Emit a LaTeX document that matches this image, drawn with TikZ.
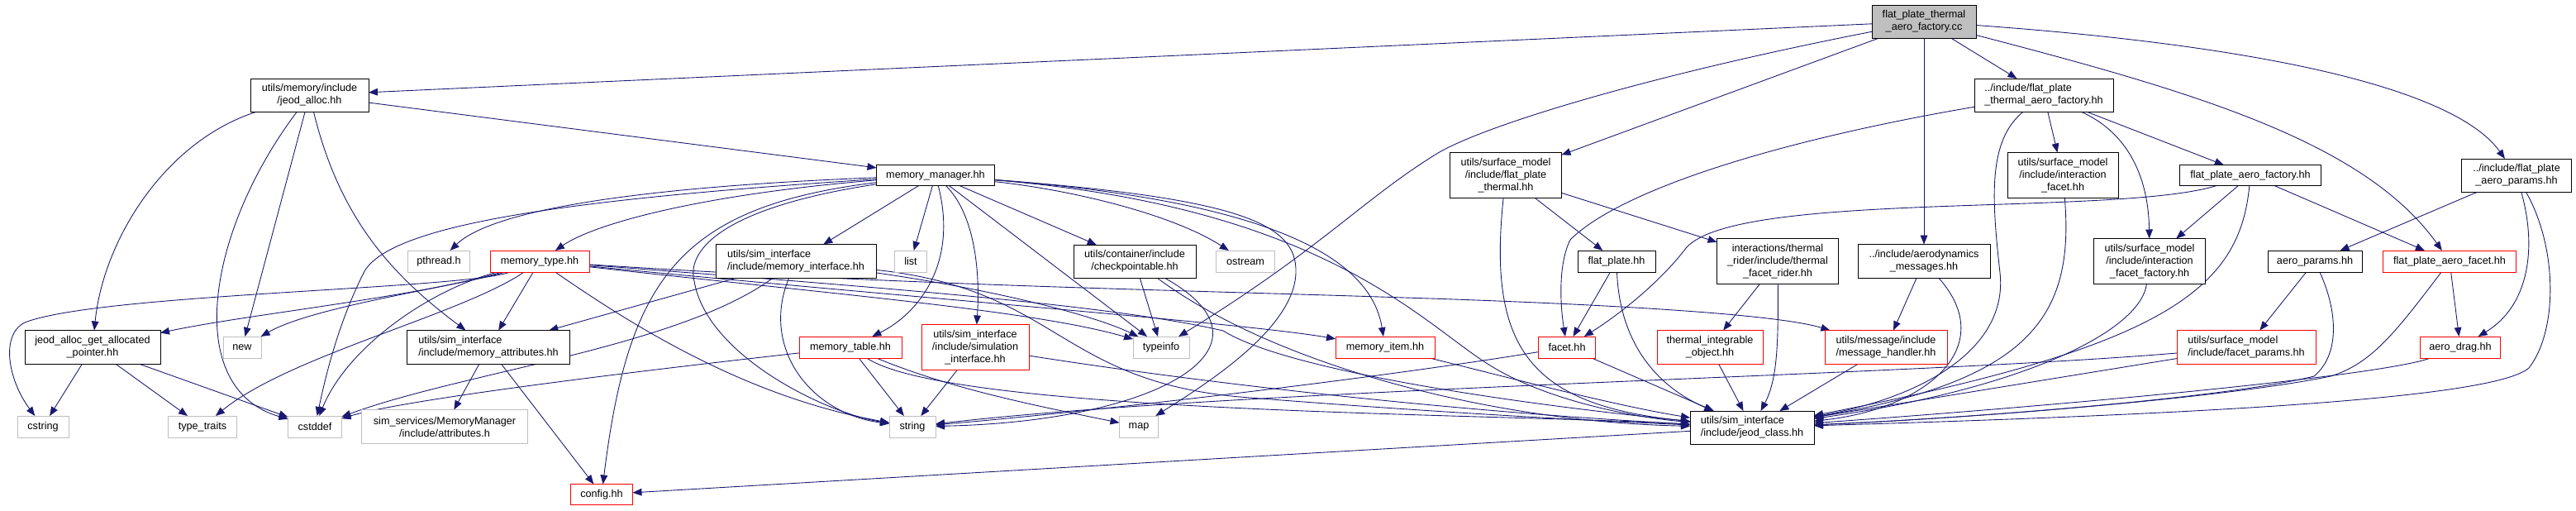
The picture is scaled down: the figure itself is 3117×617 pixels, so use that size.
\documentclass[tikz,border=0pt]{standalone}
\usepackage{fontspec}
\setmainfont{Liberation Sans}
\usepackage{tikz}
\usetikzlibrary{arrows.meta, backgrounds}
\definecolor{edgeblue}{RGB}{25,25,112}
\definecolor{sysgray}{RGB}{191,191,191}
\definecolor{truncred}{RGB}{255,0,0}
\definecolor{rootgray}{RGB}{191,191,191}
\newcommand\lbl{\fontsize{10.8pt}{12.8pt}\selectfont}
\newcommand\pxu{0.03cm}
\tikzset{
  hdr/.style={draw=black, line width=0.7pt, fill=white, inner sep=0pt, outer sep=0pt,
              font=\lbl, align=center},
  syshdr/.style={hdr, draw=sysgray},
  trunc/.style={hdr, draw=truncred},
  rootfile/.style={hdr, fill=rootgray},
  sz/.style 2 args={minimum width=#1*\pxu, minimum height=#2*\pxu},
  dep/.style={draw=edgeblue, line width=0.75pt, -{Triangle[length=0.33cm, width=0.26cm]}}
}

\begin{document}
\begin{tikzpicture}[x=0.03cm, y=-0.03cm]
  \useasboundingbox (0,0) rectangle (3117,617);
  % files
  \node[rootfile, sz={126}{40}] (fptacc) at (2328,26) {flat\_plate\_thermal\\\_aero\_factory.cc};
  \node[hdr, sz={143}{40}] (jeodalloc) at (374.5,115) {utils/memory/include\\/jeod\_alloc.hh};
  \node[hdr, sz={143}{25}] (mmgr) at (1132,212) {memory\_manager.hh};
  \node[syshdr, sz={75}{26}] (pthread) at (531,316) {pthread.h};
  \node[trunc, sz={120}{26}] (memtype) at (653,316) {memory\_type.hh};
  \node[hdr, sz={194}{41}, align=left] (memiface) at (963,316) {utils/sim\_interface\\/include/memory\_interface.hh};
  \node[syshdr, sz={39}{26}] (list) at (1102,316) {list};
  \node[hdr, sz={148}{40}] (chkpt) at (1373,316) {utils/container/include\\/checkpointable.hh};
  \node[syshdr, sz={71}{26}] (ostream) at (1507,316) {ostream};
  \node[hdr, sz={164}{41}] (getptr) at (112,420) {jeod\_alloc\_get\_allocated\\\_pointer.hh};
  \node[syshdr, sz={46}{26}] (newhdr) at (293,420) {new};
  \node[hdr, sz={197}{41}, align=left] (memattr) at (591,420) {utils/sim\_interface\\/include/memory\_attributes.hh};
  \node[trunc, sz={124}{26}] (memtable) at (1029,420) {memory\_table.hh};
  \node[trunc, sz={130}{55}] (siminterface) at (1180,420) {utils/sim\_interface\\/include/simulation\\\_interface.hh};
  \node[syshdr, sz={68}{26}] (typeinfo) at (1405,420) {typeinfo};
  \node[trunc, sz={120}{26}] (memitem) at (1676,420) {memory\_item.hh};
  \node[syshdr, sz={62}{26}] (cstring) at (52,516) {cstring};
  \node[syshdr, sz={83}{26}] (typetraits) at (245,516) {type\_traits};
  \node[syshdr, sz={65}{26}] (cstddef) at (381,516) {cstddef};
  \node[syshdr, sz={201}{41}] (attrh) at (538,516) {sim\_services/MemoryManager\\/include/attributes.h};
  \node[syshdr, sz={56}{26}] (string) at (1104,516) {string};
  \node[syshdr, sz={47}{26}] (map) at (1378,516) {map};
  \node[trunc, sz={75}{25}] (config) at (728,598) {config.hh};
  \node[hdr, sz={135}{55}] (fpthermal) at (1822,212) {utils/surface\_model\\/include/flat\_plate\\\_thermal.hh};
  \node[hdr, sz={94}{26}] (flatplate) at (1956,316) {flat\_plate.hh};
  \node[hdr, sz={147}{55}] (rider) at (2151,316) {interactions/thermal\\\_rider/include/thermal\\\_facet\_rider.hh};
  \node[hdr, sz={160}{41}] (aeromsg) at (2328,316) {../include/aerodynamics\\\_messages.hh};
  \node[trunc, sz={69}{26}] (facet) at (1896,420) {facet.hh};
  \node[trunc, sz={128}{41}] (thermobj) at (2069,420) {thermal\_integrable\\\_object.hh};
  \node[trunc, sz={148}{41}] (msghandler) at (2282,420) {utils/message/include\\/message\_handler.hh};
  \node[hdr, sz={150}{40}, align=left] (jeodclass) at (2120,517) {utils/sim\_interface\\/include/jeod\_class.hh};
  \node[hdr, sz={168}{40}, align=left] (fptaf) at (2473,115) {../include/flat\_plate\\\_thermal\_aero\_factory.hh};
  \node[hdr, sz={134}{55}] (ifacet) at (2496,212) {utils/surface\_model\\/include/interaction\\\_facet.hh};
  \node[hdr, sz={171}{25}] (fpaf) at (2723,212) {flat\_plate\_aero\_factory.hh};
  \node[hdr, sz={133}{40}] (fpap) at (3045,212) {../include/flat\_plate\\\_aero\_params.hh};
  \node[hdr, sz={135}{55}] (iff) at (2601,316) {utils/surface\_model\\/include/interaction\\\_facet\_factory.hh};
  \node[hdr, sz={114}{26}] (aeroparams) at (2801,316) {aero\_params.hh};
  \node[trunc, sz={161}{26}] (fpafacet) at (2964,316) {flat\_plate\_aero\_facet.hh};
  \node[trunc, sz={168}{41}, align=left] (facetparams) at (2718,420) {utils/surface\_model\\/include/facet\_params.hh};
  \node[trunc, sz={97}{26}] (aerodrag) at (2977,420) {aero\_drag.hh};

  % includes
  \begin{scope}[on background layer]
    \draw[dep] (fptacc) -- (jeodalloc);
    \draw[dep] (fptacc) .. controls (2000,90) and (1800,150) .. (1740,185) .. controls (1650,240) and (1600,300) .. (typeinfo);
    \draw[dep] (fptacc) -- (fpthermal);
    \draw[dep] (fptacc) -- (aeromsg);
    \draw[dep] (fptacc) -- (fptaf);
    \draw[dep] (fptacc) .. controls (2650,110) and (2860,170) .. (fpafacet);
    \draw[dep] (fptacc) .. controls (2800,60) and (2980,120) .. (fpap);

    \draw[dep] (jeodalloc) -- (mmgr);
    \draw[dep] (jeodalloc) .. controls (200,170) and (125,290) .. (getptr);
    \draw[dep] (jeodalloc) -- (newhdr);
    \draw[dep] (jeodalloc) .. controls (250,280) and (220,470) .. (cstddef);
    \draw[dep] (jeodalloc) .. controls (410,260) and (470,330) .. (memattr);

    \draw[dep] (mmgr) .. controls (800,225) and (600,250) .. (pthread);
    \draw[dep] (mmgr) .. controls (850,235) and (720,270) .. (memtype);
    \draw[dep] (mmgr) .. controls (700,240) and (470,270) .. (440,330) .. controls (410,390) and (395,450) .. (cstddef);
    \draw[dep] (mmgr) .. controls (820,250) and (760,340) .. (config);
    \draw[dep] (mmgr) .. controls (880,250) and (830,300) .. (840,340) .. controls (855,430) and (1000,500) .. (string);
    \draw[dep] (mmgr) -- (memiface);
    \draw[dep] (mmgr) -- (list);
    \draw[dep] (mmgr) .. controls (1160,320) and (1110,380) .. (memtable);
    \draw[dep] (mmgr) .. controls (1180,260) and (1186,330) .. (siminterface);
    \draw[dep] (mmgr) -- (typeinfo);
    \draw[dep] (mmgr) -- (chkpt);
    \draw[dep] (mmgr) .. controls (1300,230) and (1420,260) .. (ostream);
    \draw[dep] (mmgr) .. controls (1500,240) and (1570,270) .. (1568,330) .. controls (1566,400) and (1450,470) .. (map);
    \draw[dep] (mmgr) .. controls (1560,245) and (1660,320) .. (memitem);
    \draw[dep] (mmgr) .. controls (1600,250) and (1720,390) .. (1800,440) .. controls (1870,485) and (1980,505) .. (jeodclass);

    \draw[dep] (memtype) .. controls (500,360) and (300,380) .. (getptr);
    \draw[dep] (memtype) .. controls (560,345) and (380,370) .. (newhdr);
    \draw[dep] (memtype) .. controls (560,350) and (120,355) .. (30,390) .. controls (0,405) and (10,460) .. (cstring);
    \draw[dep] (memtype) .. controls (560,380) and (350,430) .. (typetraits);
    \draw[dep] (memtype) .. controls (520,350) and (420,420) .. (cstddef);
    \draw[dep] (memtype) -- (memattr);
    \draw[dep] (memtype) .. controls (760,390) and (900,480) .. (string);
    \draw[dep] (memtype) .. controls (1000,355) and (1250,375) .. (typeinfo);
    \draw[dep] (memtype) .. controls (1100,360) and (1500,390) .. (memitem);
    \draw[dep] (memtype) .. controls (1100,350) and (1350,370) .. (1480,400) .. controls (1560,450) and (1850,490) .. (jeodclass);
    \draw[dep] (memtype) .. controls (1100,345) and (1400,350) .. (1700,360) .. controls (1950,368) and (2150,380) .. (msghandler);

    \draw[dep] (memiface) -- (memattr);
    \draw[dep] (memiface) .. controls (820,420) and (560,450) .. (cstddef);
    \draw[dep] (memiface) .. controls (920,420) and (980,500) .. (string);
    \draw[dep] (memiface) .. controls (1200,350) and (1320,380) .. (typeinfo);
    \draw[dep] (memiface) .. controls (1280,350) and (1280,460) .. (1500,480) .. controls (1750,500) and (1950,510) .. (jeodclass);

    \draw[dep] (chkpt) -- (typeinfo);
    \draw[dep] (chkpt) .. controls (1560,420) and (1400,510) .. (string);
    \draw[dep] (chkpt) .. controls (1540,440) and (1800,510) .. (jeodclass);

    \draw[dep] (memtable) -- (string);
    \draw[dep] (memtable) .. controls (1150,470) and (1250,490) .. (map);
    \draw[dep] (memtable) .. controls (1150,500) and (1800,500) .. (jeodclass);
    \draw[dep] (memtable) .. controls (850,440) and (500,480) .. (cstddef);

    \draw[dep] (siminterface) -- (string);
    \draw[dep] (siminterface) .. controls (1500,470) and (1800,500) .. (jeodclass);

    \draw[dep] (getptr) -- (cstring);
    \draw[dep] (getptr) -- (typetraits);
    \draw[dep] (getptr) -- (cstddef);
    \draw[dep] (memattr) -- (attrh);
    \draw[dep] (memattr) -- (config);
    \draw[dep] (memitem) .. controls (1800,450) and (1950,490) .. (jeodclass);
    \draw[dep] (jeodclass) -- (config);

    \draw[dep] (fpthermal) -- (flatplate);
    \draw[dep] (fpthermal) -- (rider);
    \draw[dep] (fpthermal) .. controls (1800,420) and (1850,490) .. (jeodclass);
    \draw[dep] (flatplate) -- (facet);
    \draw[dep] (flatplate) .. controls (1960,420) and (2010,470) .. (jeodclass);
    \draw[dep] (rider) -- (thermobj);
    \draw[dep] (rider) .. controls (2152,420) and (2150,460) .. (jeodclass);
    \draw[dep] (aeromsg) -- (msghandler);
    \draw[dep] (aeromsg) .. controls (2420,420) and (2330,495) .. (jeodclass);
    \draw[dep] (facet) .. controls (1650,460) and (1300,500) .. (string);
    \draw[dep] (facet) -- (jeodclass);
    \draw[dep] (thermobj) -- (jeodclass);
    \draw[dep] (msghandler) -- (jeodclass);

    \draw[dep] (fptaf) .. controls (2150,170) and (1960,230) .. (1900,290) .. controls (1885,320) and (1888,370) .. (facet);
    \draw[dep] (fptaf) -- (ifacet);
    \draw[dep] (fptaf) -- (fpaf);
    \draw[dep] (fptaf) .. controls (2585,165) and (2600,230) .. (iff);
    \draw[dep] (fptaf) .. controls (2405,170) and (2410,240) .. (2420,330) .. controls (2430,420) and (2330,480) .. (jeodclass);
    \draw[dep] (ifacet) .. controls (2510,380) and (2460,460) .. (jeodclass);
    \draw[dep] (iff) .. controls (2590,400) and (2450,470) .. (jeodclass);
    \draw[dep] (fpaf) -- (iff);
    \draw[dep] (fpaf) -- (fpafacet);
    \draw[dep] (fpaf) .. controls (2710,350) and (2620,420) .. (jeodclass);
    \draw[dep] (fpaf) .. controls (2560,262) and (2100,230) .. (2040,300) .. controls (2010,340) and (1960,380) .. (facet);

    \draw[dep] (fpap) -- (aeroparams);
    \draw[dep] (fpap) .. controls (3070,300) and (3060,370) .. (aerodrag);
    \draw[dep] (fpap) .. controls (3095,300) and (3095,400) .. (3060,445) .. controls (3020,480) and (2700,500) .. (jeodclass);
    \draw[dep] (aeroparams) -- (facetparams);
    \draw[dep] (aeroparams) .. controls (2830,380) and (2830,430) .. (2800,455) .. controls (2700,480) and (2400,505) .. (jeodclass);
    \draw[dep] (fpafacet) -- (aerodrag);
    \draw[dep] (fpafacet) .. controls (2900,400) and (2870,440) .. (2820,455) .. controls (2700,480) and (2400,505) .. (jeodclass);
    \draw[dep] (facetparams) .. controls (2300,455) and (1500,470) .. (string);
    \draw[dep] (facetparams) -- (jeodclass);
    \draw[dep] (aerodrag) .. controls (2880,455) and (2500,490) .. (jeodclass);
  \end{scope}
\end{tikzpicture}
\end{document}
